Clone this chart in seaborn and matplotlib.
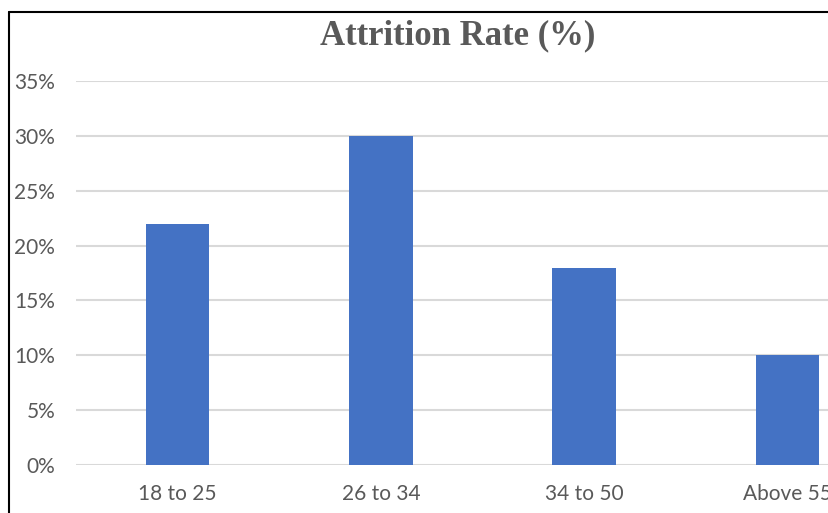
import matplotlib
matplotlib.use("Agg")
import matplotlib.pyplot as plt
import seaborn as sns
import pandas as pd
from matplotlib.lines import Line2D
from matplotlib.ticker import FuncFormatter, MultipleLocator

categories = ["18 to 25", "26 to 34", "34 to 50", "Above 55"]
attrition = [22, 30, 18, 10]
title = "Attrition Rate (%)"

df = pd.DataFrame({"Age": categories, "Rate": attrition})

sns.set_theme(style="white")
plt.rcParams["font.family"] = ["Lato", "DejaVu Sans"]

W, H = 829, 513
fig = plt.figure(figsize=(W / 100, H / 100), dpi=100)
ax = fig.add_axes([76 / W, 1 - 465 / H, 813 / W, (465 - 81) / H])

sns.barplot(data=df, x="Age", y="Rate", color="#4472C4", width=0.312,
            saturation=1, linewidth=0, edgecolor="none", ax=ax, zorder=3)

ax.set_xlim(-0.5, 3.5)
ax.set_ylim(0, 35)
ax.yaxis.set_major_locator(MultipleLocator(5))
ax.yaxis.set_major_formatter(FuncFormatter(lambda v, p: f"{v:.0f}%"))
ax.grid(axis="y", color="#d9d9d9", linewidth=1.5, zorder=0)
ax.grid(axis="x", visible=False)
for s in ax.spines.values():
    s.set_visible(False)
ax.set_xlabel("")
ax.set_ylabel("")
ax.tick_params(axis="y", length=0, pad=15, labelsize=15, labelcolor="#595959")
ax.tick_params(axis="x", length=0, pad=14, labelsize=15, labelcolor="#595959")

fig.text(458 / W, 1 - 36 / H, title, ha="center", va="center",
         family="Liberation Serif", fontweight="bold", fontsize=25, color="#595959")

bx, by = 9 / W, 1 - 12 / H
fig.add_artist(Line2D([bx, 1.05], [by, by], transform=fig.transFigure,
                      color="black", linewidth=1.5))
fig.add_artist(Line2D([bx, bx], [by, -0.05], transform=fig.transFigure,
                      color="black", linewidth=1.5))

fig.savefig("out.png", dpi=100)
